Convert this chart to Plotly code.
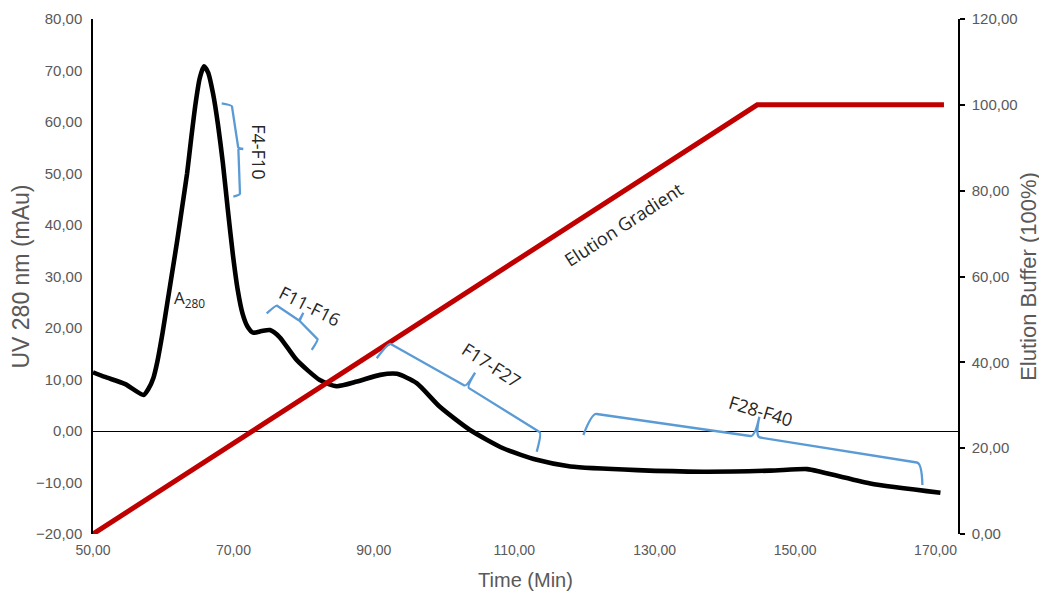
import plotly.graph_objects as go

# ---- data ----
time_a280 = [50, 51.7, 54.6, 57.2, 57.9, 58.6, 59.2, 59.9, 60.6, 61.3, 62.0, 62.7, 63.4, 64.0,
             64.6, 65.2, 65.8, 66.4, 67.1, 67.8, 68.5, 69.2, 69.9, 70.6, 71.3, 72.0, 72.8,
             74.0, 75.2, 76.6, 79.0, 82.3, 84.7, 87.6, 90.9, 93.3, 96.1, 99.4, 103.7,
             108.5, 113.2, 118.0, 127.5, 136.9, 146.4, 151.7, 153.6, 160.7, 170.7]
a280 = [11.4, 10.5, 9.1, 7.0, 8.2, 10.3, 13.7, 19.0, 25.0, 31.0, 37.0, 43.5, 50.0, 57.0,
        63.5, 68.5, 70.8, 69.6, 65.5, 59.5, 52.0, 43.0, 34.5, 27.5, 22.8, 20.3, 19.1,
        19.4, 19.6, 18.2, 13.8, 9.9, 8.7, 9.6, 10.9, 11.1, 9.3, 4.7, 0.2,
        -3.4, -5.6, -6.9, -7.6, -7.9, -7.7, -7.4, -7.9, -10.2, -12.0]

time_gradient = [50, 144.6, 171.2]
elution_buffer = [0, 100, 100]

x_ticks = [50, 70, 90, 110, 130, 150, 170]

# fraction braces: end, corner, middle, tip, corner, end
brace_labels = ["F4-F10", "F11-F16", "F17-F27", "F28-F40"]
brace_x = [
    [68.33, 69.76, 70.70, 71.41, 70.94, 69.99],
    [74.74, 76.07, 79.39, 79.96, 82.09, 81.15],
    [90.41, 92.07, 103.23, 104.42, 113.92, 113.20],
    [119.84, 121.04, 144.30, 144.91, 168.05, 168.13],
]
brace_y = [
    [63.63, 63.30, 54.89, 54.76, 45.83, 45.50],
    [22.85, 24.47, 21.42, 22.97, 17.67, 15.73],
    [14.12, 17.15, 8.60, 11.32, -0.45, -4.02],
    [-0.78, 3.44, -1.11, 2.78, -6.27, -10.49],
]

# ---- figure ----
AX_FONT = "Liberation Sans Narrow, Arial Narrow, Liberation Sans, Arial"
ANN_FONT = "Open Sans, Noto Sans, DejaVu Sans"
GRAY = "#595959"
ANN_SIZE = 18

fig = go.Figure()

fig.add_trace(go.Scatter(
    x=time_gradient, y=elution_buffer, yaxis="y2", mode="lines",
    line=dict(color="#C00000", width=5), showlegend=False, hoverinfo="skip"))

fig.add_trace(go.Scatter(
    x=time_a280, y=a280, mode="lines",
    line=dict(color="black", width=4.6, shape="spline", smoothing=0.6),
    showlegend=False))


def lerp(p, q, f):
    return (p[0] + f * (q[0] - p[0]), p[1] + f * (q[1] - p[1]))


def brace_path(bx, by, f=0.03):
    e1, c1, m, t, c2, e2 = list(zip(bx, by))
    a1 = lerp(c1, m, f)
    b1 = lerp(m, c1, f)
    b2 = lerp(m, c2, f)
    a2 = lerp(c2, m, f)
    P = lambda p: f"{p[0]},{p[1]}"
    return (f"M {P(e1)} Q {P(c1)} {P(a1)} L {P(b1)} Q {P(m)} {P(t)} "
            f"Q {P(m)} {P(b2)} L {P(a2)} Q {P(c2)} {P(e2)}")


shapes = []
for bx, by in zip(brace_x, brace_y):
    shapes.append(dict(type="path", path=brace_path(bx, by), xref="x", yref="y",
                       line=dict(color="#5B9BD5", width=2.3)))

annotations = []
label_pos = [(73.6, 54.2, 90), (80.9, 24.2, 27), (106.8, 12.9, 33), (145.2, 3.8, 17)]
for lab, (ax, ay, ang) in zip(brace_labels, label_pos):
    annotations.append(dict(x=ax, y=ay, xref="x", yref="y", text=lab, showarrow=False,
                            textangle=ang, font=dict(family=ANN_FONT, size=ANN_SIZE, color="#262626")))
annotations.append(dict(x=125.6, y=40.2, xref="x", yref="y", text="Elution Gradient",
                        showarrow=False, textangle=-33,
                        font=dict(family=ANN_FONT, size=ANN_SIZE, color="#262626")))
annotations.append(dict(x=63.8, y=25.8, xref="x", yref="y", text="A<sub>280</sub>",
                        showarrow=False, font=dict(family=ANN_FONT, size=ANN_SIZE - 1, color="#262626")))

# page body adds an 8px margin, so the figure is sized/offset to compensate
fig.update_layout(
    width=1039, height=588,
    margin=dict(l=85, r=89, t=11, b=62, autoexpand=False),
    plot_bgcolor="white", paper_bgcolor="white",
    separators=",.",
    shapes=shapes, annotations=annotations,
    xaxis=dict(range=[50, 173.2], tickvals=x_ticks, tickformat=".2f", automargin=False,
               showgrid=False, zeroline=False, showline=False, ticks="",
               ticklabelstandoff=6,
               tickfont=dict(family=AX_FONT, size=14, color=GRAY),
               title=dict(text="Time (Min)", font=dict(family=AX_FONT, size=20, color=GRAY))),
    yaxis=dict(range=[-20, 80], dtick=10, tickformat=".2f", automargin=False,
               showgrid=False, zeroline=True, zerolinecolor="black", zerolinewidth=1,
               showline=True, linecolor="black", linewidth=1.5, ticks="",
               ticklabelstandoff=6,
               tickfont=dict(family=AX_FONT, size=15, color=GRAY),
               title=dict(text="UV 280 nm (mAu)", standoff=4,
                          font=dict(family=AX_FONT, size=23, color=GRAY))),
    yaxis2=dict(range=[0, 120], dtick=20, tickformat=".2f", overlaying="y", side="right",
                showgrid=False, zeroline=False, automargin=False,
                showline=True, linecolor="black", linewidth=1.5,
                ticks="outside", ticklen=5, tickcolor="black", tickwidth=1.5,
                ticklabelstandoff=4,
                tickfont=dict(family=AX_FONT, size=15, color=GRAY),
                title=dict(text="Elution Buffer (100%)", standoff=4,
                           font=dict(family=AX_FONT, size=22, color=GRAY))),
)

fig.write_html("out.html")
